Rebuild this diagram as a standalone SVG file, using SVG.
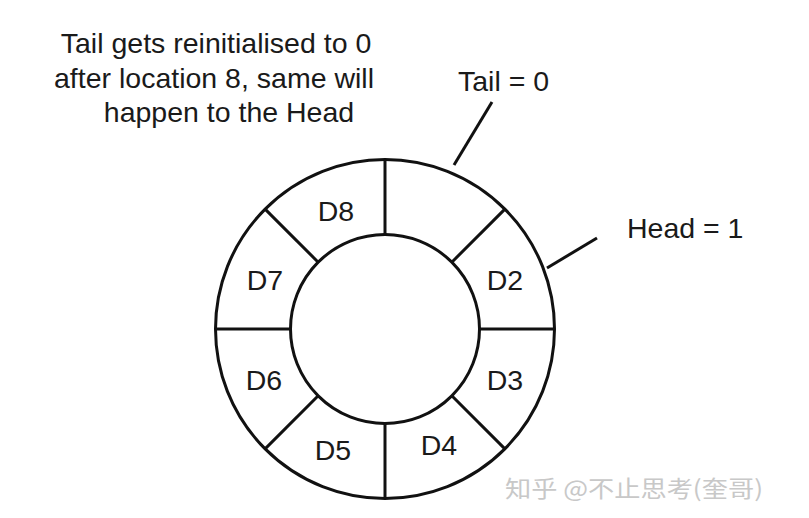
<svg xmlns="http://www.w3.org/2000/svg" width="809" height="518" viewBox="0 0 809 518">
<style>
.ln{stroke:#111;stroke-width:3;fill:none;stroke-linecap:butt}
.t{font-family:"Liberation Sans",Arial,sans-serif;font-size:28.5px;fill:#1a1a1a}
.m{text-anchor:middle}
.wm{font-family:"Noto Sans CJK SC","Liberation Sans",sans-serif;font-size:23px;fill:#c8c8c8}
</style>
<rect width="809" height="518" fill="#fff"/>
<g id="ring">
<circle class="ln" cx="385" cy="329" r="169.5"/>
<circle class="ln" cx="385" cy="329" r="94.5"/>
</g>
<g id="connectors">
<line class="ln" x1="385" y1="159.5" x2="385" y2="234.5"/>
<line class="ln" x1="385" y1="423.5" x2="385" y2="498.5"/>
<line class="ln" x1="215.5" y1="329" x2="290.5" y2="329"/>
<line class="ln" x1="479.5" y1="329" x2="554.5" y2="329"/>
<line class="ln" x1="504.9" y1="209.1" x2="451.8" y2="262.2"/>
<line class="ln" x1="265.1" y1="209.1" x2="318.2" y2="262.2"/>
<line class="ln" x1="504.9" y1="448.9" x2="451.8" y2="395.8"/>
<line class="ln" x1="265.1" y1="448.9" x2="318.2" y2="395.8"/>
<line class="ln" x1="492" y1="102" x2="454" y2="165"/>
<line class="ln" x1="597" y1="238" x2="547" y2="268"/>
</g>
<g id="labels">
<text class="t m" x="336" y="221">D8</text>
<text class="t m" x="265" y="290">D7</text>
<text class="t m" x="505" y="290">D2</text>
<text class="t m" x="264" y="390">D6</text>
<text class="t m" x="505" y="390">D3</text>
<text class="t m" x="333" y="460">D5</text>
<text class="t m" x="439" y="455">D4</text>
</g>
<g id="tail">
<text class="t" x="458" y="91">Tail = 0</text>
</g>
<g id="head">
<text class="t" x="627" y="238">Head = 1</text>
</g>
<g id="note">
<text class="t m" x="216" y="53">Tail gets reinitialised to 0</text>
<text class="t m" x="214" y="88">after location 8, same will</text>
<text class="t m" x="229" y="122">happen to the Head</text>
</g>
<text class="wm" x="505" y="497" textLength="258" lengthAdjust="spacingAndGlyphs">知乎 @不止思考(奎哥)</text>
</svg>
